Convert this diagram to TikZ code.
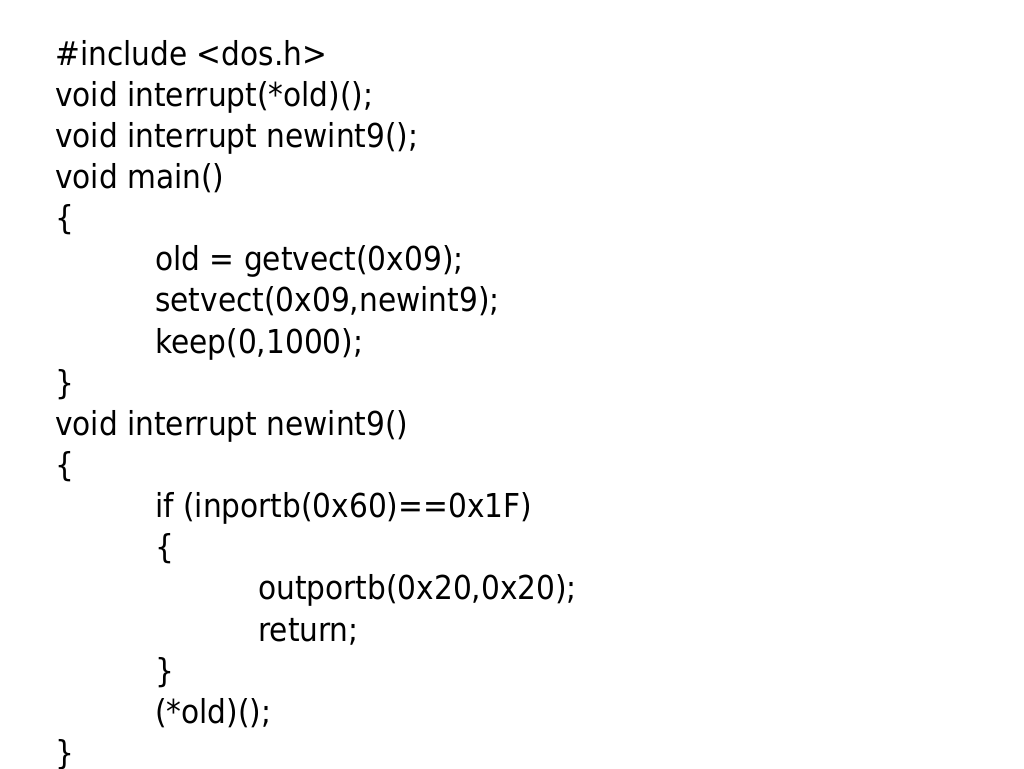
\documentclass[tikz,border=0pt]{standalone}
\usepackage{fontspec}
\setmainfont{DejaVu Sans Condensed}
\begin{document}
\begin{tikzpicture}[x=0.75pt,y=-0.75pt,
  code/.style={anchor=base west,inner sep=0pt,font=\fontsize{24.7pt}{28pt}\selectfont}]
\useasboundingbox (0,0) rectangle (1024,768);
\fill[white] (0,0) rectangle (1024,768);
\def\by{65}
\def\dy{41.15}
\node[code] (l1)  at (55,\by+0*\dy)  {\#include <dos.h>};
\node[code] (l2)  at (55,\by+1*\dy)  {void interrupt(*old)();};
\node[code] (l3)  at (55,\by+2*\dy)  {void interrupt newint9();};
\node[code] (l4)  at (55,\by+3*\dy)  {void main()};
\node[code] (l5)  at (55,\by+4*\dy)  {\{};
\node[code] (l6)  at (155,\by+5*\dy) {old = getvect(0x09);};
\node[code] (l7)  at (155,\by+6*\dy) {setvect(0x09,newint9);};
\node[code] (l8)  at (155,\by+7*\dy) {keep(0,1000);};
\node[code] (l9)  at (55,\by+8*\dy)  {\}};
\node[code] (l10) at (55,\by+9*\dy)  {void interrupt newint9()};
\node[code] (l11) at (55,\by+10*\dy) {\{};
\node[code] (l12) at (155,\by+11*\dy) {if (inportb(0x60)==0x1F)};
\node[code] (l13) at (155,\by+12*\dy) {\{};
\node[code] (l14) at (258,\by+13*\dy) {outportb(0x20,0x20);};
\node[code] (l15) at (258,\by+14*\dy) {return;};
\node[code] (l16) at (155,\by+15*\dy) {\}};
\begin{scope}
\clip (0,0) rectangle (1024,727);
\node[code] (l17) at (155,\by+16*\dy) {(*old)();};
\end{scope}
\node[code] (l18) at (55,\by+17*\dy) {\}};
\end{tikzpicture}
\end{document}
